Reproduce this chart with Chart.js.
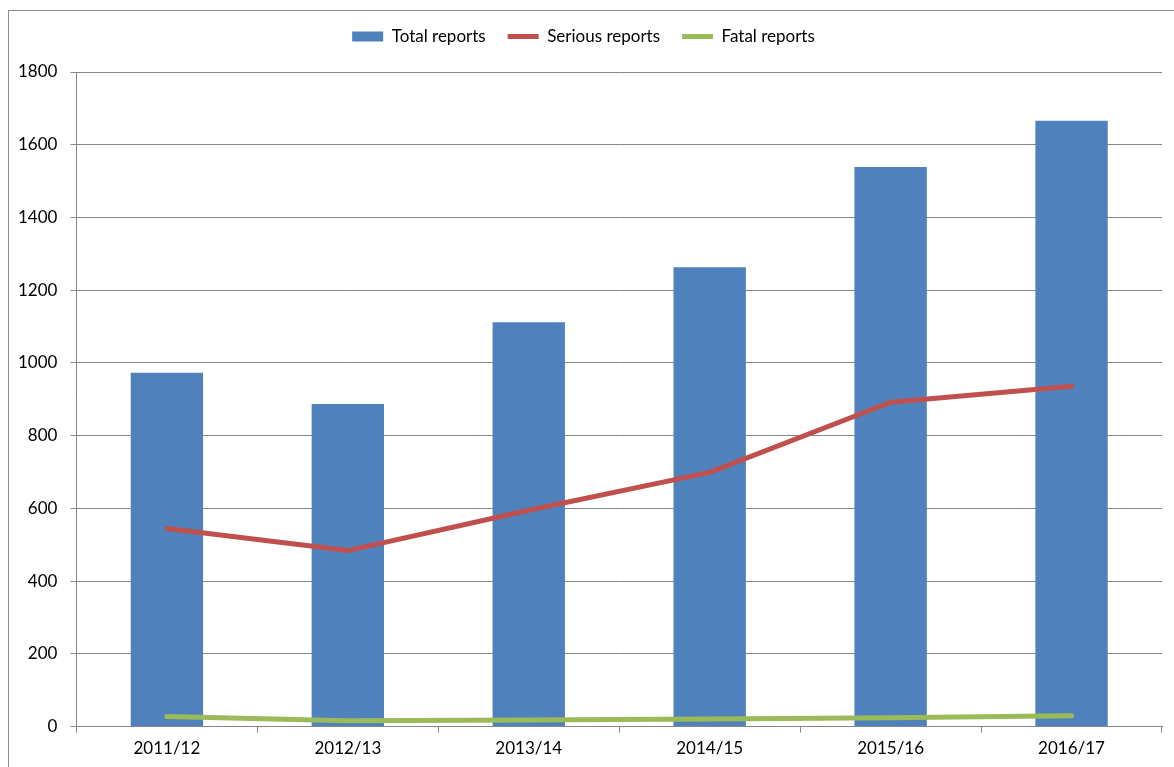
<!DOCTYPE html>
<html>
<head>
<meta charset="utf-8">
<script src="https://cdn.jsdelivr.net/npm/chart.js@4/dist/chart.umd.min.js"></script>
<style>
  html, body { margin: 0; padding: 0; background: #fff; overflow: hidden; }
  #wrap { position: relative; width: 1174px; height: 767px; }
  #frame { position: absolute; left: 8px; top: 10px; width: 1200px; height: 800px; border: 1px solid #8c8c8c; box-sizing: border-box; }
  canvas { position: absolute; left: 0; top: 0; }
</style>
</head>
<body>
<div id="wrap">
  <div id="frame"></div>
  <canvas id="chart" width="1174" height="767"></canvas>
</div>
<script>
// valeurs
const years = ['2011/12', '2012/13', '2013/14', '2014/15', '2015/16', '2016/17'];
const totalReports = [973, 887, 1112, 1263, 1539, 1666];
const seriousReports = [545, 484, 595, 699, 892, 936];
const fatalReports = [28, 16, 18, 21, 24, 30];
const yTicks = { min: 0, max: 1800, step: 200 };

Chart.defaults.font.family = 'Lato, "Open Sans", sans-serif';
Chart.defaults.font.size = 17;
Chart.defaults.color = '#000';

const gridColor = '#868686';

// un peu d'espace sous la légende
const legendGap = {
    id: 'legendGap',
    beforeInit(chart) {
        const fit = chart.legend.fit;
        chart.legend.fit = function () {
            fit.call(this);
            this.height += 17;
        };
    }
};

const ctx = document.getElementById('chart').getContext('2d');
const chart = new Chart(ctx, {
    type: 'bar',
    data: {
        labels: years,
        datasets: [{
            label: 'Total reports',
            data: totalReports,
            backgroundColor: '#4F81BD',
            borderWidth: 0,
            barPercentage: 0.4,
            categoryPercentage: 1,
            order: 3,
            pointStyle: 'rect'
        }, {
            label: 'Serious reports',
            data: seriousReports,
            type: 'line',
            borderColor: '#C0504D',
            backgroundColor: '#C0504D',
            borderWidth: 5,
            borderCapStyle: 'round',
            borderJoinStyle: 'round',
            pointRadius: 0,
            tension: 0,
            order: 1,
            pointStyle: 'line'
        }, {
            label: 'Fatal reports',
            data: fatalReports,
            type: 'line',
            borderColor: '#9BBB59',
            backgroundColor: '#9BBB59',
            borderWidth: 5,
            borderCapStyle: 'round',
            borderJoinStyle: 'round',
            pointRadius: 0,
            tension: 0,
            order: 2,
            pointStyle: 'line'
        }]
    },
    options: {
        responsive: false,
        animation: false,
        layout: {
            padding: { left: 5, right: 12, top: 6, bottom: 2 }
        },
        plugins: {
            tooltip: { enabled: false },
            legend: {
                position: 'top',
                labels: {
                    usePointStyle: true,
                    pointStyleWidth: 31,
                    boxHeight: 10,
                    padding: 22,
                    sort: (a, b) => a.datasetIndex - b.datasetIndex,
                    color: '#000'
                }
            }
        },
        scales: {
            x: {
                offset: true,
                grid: {
                    offset: true,
                    drawOnChartArea: false,
                    drawTicks: true,
                    tickLength: 6,
                    color: gridColor
                },
                border: { color: gridColor, width: 1 },
                ticks: { padding: 6, color: '#000' }
            },
            y: {
                min: yTicks.min,
                max: yTicks.max,
                ticks: {
                    stepSize: yTicks.step,
                    padding: 13,
                    color: '#000',
                    callback: (v) => String(v)
                },
                grid: { color: gridColor, tickLength: 6 },
                border: { color: gridColor, width: 1 }
            }
        }
    },
    plugins: [legendGap]
});
</script>
</body>
</html>
